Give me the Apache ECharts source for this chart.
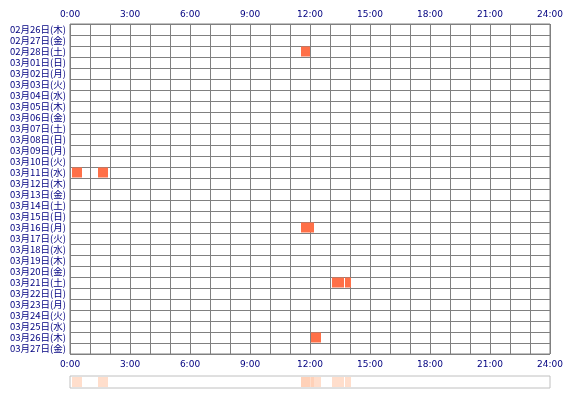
<!DOCTYPE html>
<html><head><meta charset="utf-8">
<script src="https://cdn.jsdelivr.net/npm/echarts@6/dist/echarts.min.js"></script>
<style>html,body{margin:0;padding:0;background:#fff}#c{width:570px;height:400px}</style>
</head><body><div id="c"></div>
<script>
var days = ["02月26日(木)","02月27日(金)","02月28日(土)","03月01日(日)","03月02日(月)","03月03日(火)","03月04日(水)","03月05日(木)","03月06日(金)","03月07日(土)","03月08日(日)","03月09日(月)","03月10日(火)","03月11日(水)","03月12日(木)","03月13日(金)","03月14日(土)","03月15日(日)","03月16日(月)","03月17日(火)","03月18日(水)","03月19日(木)","03月20日(金)","03月21日(土)","03月22日(日)","03月23日(月)","03月24日(火)","03月25日(水)","03月26日(木)","03月27日(金)"];
// [dayIndex, startHour, endHour]
var events = [[2,11.55,12.0],[13,0.1,0.6],[13,1.4,1.9],[18,11.55,12.0],[18,12.0,12.2],[23,13.1,13.7],[23,13.75,14.05],[28,12.05,12.55]];
var tickLabels = ["0:00","3:00","6:00","9:00","12:00","15:00","18:00","21:00","24:00"];

function rectItem(params, api, color, full) {
  var d = api.value(0), s = api.value(1), e = api.value(2);
  var p0 = api.coord([s, d]), p1 = api.coord([e, d]);
  var h = full ? params.coordSys.height : api.size([0, 1])[1];
  var y = full ? params.coordSys.y : p0[1] - h / 2;
  return {type:'rect', shape:{x:p0[0], y:y+(full?1:0.5), width:p1[0]-p0[0], height:h-(full?2:1)}, style:{fill:color}};
}
var lab = {color:'#000080', fontSize:9, fontFamily:'DejaVu Sans', formatter:function(v){return v%3===0?tickLabels[v/3]:'';}};
var chart = echarts.init(document.getElementById('c'));
chart.setOption({
  animation:false,
  grid:[{left:70, top:24, width:480, height:330, show:true, borderColor:'#808080', borderWidth:1},
        {left:70, top:376, width:480, height:12, show:true, borderColor:'#c0c0c0', borderWidth:1}],
  xAxis:[
    {gridIndex:0, type:'value', min:0, max:24, interval:1, position:'bottom', axisLine:{show:false}, axisTick:{show:false},
     axisLabel:Object.assign({margin:6, showMaxLabel:true, showMinLabel:true}, lab), splitLine:{lineStyle:{color:'#808080', width:1}}},
    {gridIndex:0, type:'value', min:0, max:24, interval:1, position:'top', axisLine:{show:false}, axisTick:{show:false},
     axisLabel:Object.assign({margin:5, showMaxLabel:true, showMinLabel:true}, lab), splitLine:{show:false}},
    {gridIndex:1, type:'value', min:0, max:24, show:false},
  ],
  yAxis:[
    {gridIndex:0, type:'category', data:days, inverse:true, axisLine:{show:false}, axisTick:{show:false},
     axisLabel:{interval:0, color:'#000080', fontSize:9.5, fontFamily:'Noto Sans CJK JP', margin:4, lineHeight:11},
     splitLine:{show:true, interval:0, lineStyle:{color:'#808080', width:1}}},
    {gridIndex:1, type:'category', data:['a'], show:false}
  ],
  series:[
    {type:'custom', xAxisIndex:0, yAxisIndex:0, data:events, renderItem:function(p,a){return rectItem(p,a,'#FF7048',false);}},
    {type:'custom', xAxisIndex:2, yAxisIndex:1, data:events.map(function(e){return [0,e[1],e[2]];}),
     renderItem:function(p,a){return rectItem(p,a,'rgba(255,200,170,0.6)',true);}}
  ]
});
</script></body></html>
